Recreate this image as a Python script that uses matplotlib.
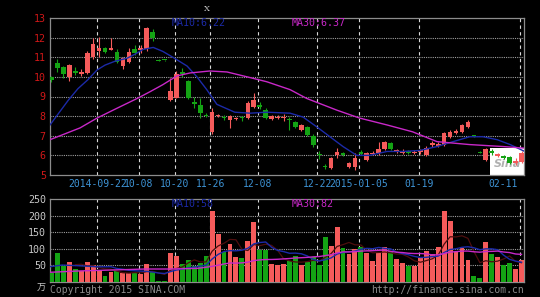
import matplotlib
matplotlib.use("Agg")
import matplotlib.pyplot as plt
import matplotlib.transforms as mtransforms
import numpy as np
import pandas as pd

# ---------------- data ----------------
opens = [10.0, 10.7, 10.5, 10.0, 10.3, 10.15, 10.2, 11.0, 11.3, 11.45,
         11.38, 11.25, 10.55, 10.75, 11.4, 11.35, 11.4, 12.3, 10.88, 10.86,
         8.8, 8.9, 10.25, 9.8, 8.7, 8.55, 8.08, 7.2, 8.0, 7.95,
         7.78, 7.83, 7.92, 7.9, 8.45, 8.55, 8.3, 7.85, 7.9, 7.92,
         7.85, 7.7, 7.3, 7.45, 7.0, 6.05, 5.45, 5.35, 6.0, 6.1,
         5.4, 5.4, 6.15, 5.75, 6.05, 6.1, 6.3, 6.65, 6.15, 6.1,
         6.2, 6.1, 6.15, 6.0, 6.55, 6.5, 6.55, 6.95, 7.15, 7.2,
         7.45, 7.0, 6.18, 5.75, 6.2, 5.95, 5.95, 5.9, 5.6, 5.65]
highs = [10.05, 10.9, 10.55, 10.65, 10.5, 10.4, 11.3, 12.0, 12.05, 11.5,
         12.0, 11.4, 11.0, 11.45, 11.6, 11.6, 12.55, 12.45, 10.9, 10.88,
         9.95, 10.3, 10.45, 9.85, 9.0, 8.9, 8.15, 8.4, 8.1, 8.05,
         8.05, 7.95, 8.0, 8.75, 9.2, 8.7, 8.4, 8.05, 8.05, 8.1,
         7.95, 7.75, 7.6, 7.5, 7.1, 6.2, 5.55, 5.9, 6.4, 6.15,
         5.65, 6.1, 6.25, 6.15, 6.2, 6.7, 6.75, 6.7, 6.3, 6.3,
         6.25, 6.25, 6.3, 6.5, 6.75, 6.7, 7.2, 7.3, 7.35, 7.6,
         7.8, 7.02, 6.2, 6.4, 6.3, 6.1, 6.0, 5.95, 5.85, 6.2]
lows = [9.75, 10.25, 9.95, 9.8, 10.1, 10.05, 10.15, 10.9, 11.0, 11.2,
        11.35, 10.7, 10.4, 10.7, 11.1, 11.2, 11.3, 11.85, 10.8, 10.82,
        8.77, 8.9, 10.0, 8.85, 8.4, 7.9, 7.95, 7.1, 7.95, 7.8,
        7.4, 7.8, 7.75, 7.85, 8.4, 8.35, 7.85, 7.8, 7.85, 7.75,
        7.3, 7.4, 7.25, 7.0, 6.45, 5.8, 5.3, 5.3, 5.85, 5.95,
        5.35, 5.25, 6.0, 5.7, 6.0, 6.0, 6.25, 6.25, 6.1, 6.05,
        6.05, 6.05, 6.05, 5.95, 6.45, 6.45, 6.5, 6.9, 7.1, 7.15,
        7.4, 6.95, 6.1, 5.7, 6.0, 5.9, 5.8, 5.55, 5.5, 5.6]
closes = [9.85, 10.45, 10.15, 10.6, 10.2, 10.27, 11.2, 11.7, 11.45, 11.25,
          11.47, 10.75, 10.95, 11.25, 11.2, 11.45, 12.5, 12.0, 10.82, 10.84,
          9.28, 10.15, 10.15, 8.9, 8.62, 8.15, 8.02, 8.2, 8.06, 7.88,
          8.0, 7.88, 7.88, 8.65, 8.8, 8.45, 7.9, 8.0, 7.97, 7.98,
          7.8, 7.45, 7.55, 7.05, 6.55, 6.0, 5.4, 5.85, 6.15, 6.02,
          5.6, 5.85, 6.08, 6.1, 6.12, 6.35, 6.7, 6.3, 6.25, 6.22,
          6.12, 6.18, 6.25, 6.4, 6.65, 6.58, 7.15, 7.2, 7.25, 7.55,
          7.7, 6.97, 6.13, 6.35, 6.1, 6.05, 5.85, 5.6, 5.7, 6.1]
volumes = [25, 86, 47, 60, 38, 32, 60, 50, 32, 17,
           28, 31, 25, 27, 25, 22, 52, 28, 3, 2,
           86, 79, 52, 65, 47, 55, 79, 215, 144, 89,
           113, 74, 71, 124, 180, 96, 96, 53, 50, 53,
           62, 79, 50, 58, 73, 50, 135, 108, 167, 101,
           83, 99, 106, 86, 62, 89, 106, 93, 68, 57,
           48, 48, 72, 93, 84, 104, 215, 184, 91, 101,
           65, 17, 12, 121, 84, 76, 50, 57, 38, 65]

# Moving-average lines of the price panel (index, value)
ma10_x = [-0.25, 2.8, 4.45, 6.1, 7.65, 9.0, 10.7, 12.7, 14.0, 15.4, 17.1, 18.7,
          20.4, 22.8, 24.45, 26.1, 27.8, 30.8, 33.4, 36.2, 40.1, 42.3, 44.6,
          46.8, 49.0, 51.3, 53.5, 56.4, 59.1, 61.9, 64.8, 67.5, 70.3, 72.5,
          74.9, 77.1, 79.4]
ma10_y = [7.55, 8.8, 9.4, 9.85, 10.35, 10.6, 10.8, 10.95, 11.15, 11.4, 11.5, 11.3,
          11.0, 10.55, 10.0, 9.35, 8.6, 8.2, 8.15, 8.2, 8.15, 7.95, 7.45,
          6.95, 6.45, 6.0, 6.0, 6.2, 6.2, 6.25, 6.45, 6.7, 6.95, 6.95,
          6.8, 6.55, 6.22]
ma30_x = [-0.25, 4.8, 7.65, 11.0, 14.4, 16.6, 18.7, 21.1, 23.3, 26.6, 29.5, 32.9,
          36.2, 40.1, 42.9, 48.0, 51.8, 56.4, 60.7, 64.8, 70.3, 75.9, 79.4]
ma30_y = [6.8, 7.4, 7.9, 8.4, 8.9, 9.25, 9.6, 10.05, 10.2, 10.3, 10.25, 10.0,
          9.75, 9.35, 8.9, 8.3, 7.9, 7.55, 7.2, 6.7, 6.55, 6.45, 6.37]

# start of the volume MA lines (before enough bars are in view)
vma10_head_x = [-0.25, 1.8, 4.5, 7.3]
vma10_head_y = [45, 50, 48, 45]
vma30_head_x = [-0.25, 4.5, 10.2, 15.7, 19.9, 24.6, 27.0]
vma30_head_y = [28, 32, 35, 38, 38, 40, 46]

date_idx = [8, 15, 21, 27, 35, 45, 52, 62, 79]
date_labels = ["2014-09-22", "10-08", "10-20", "11-26", "12-08",
               "12-22", "2015-01-05", "01-19", "02-11"]
price_ticks = [5, 6, 7, 8, 9, 10, 11, 12, 13]
vol_ticks = [50, 100, 150, 200, 250]

# ---------------- style ----------------
RED = "#F55B5B"
GREEN = "#14A314"
BLUE = "#1C2AA8"
MAG = "#C828C8"
GRID = "#A0A0A0"
MONO = "DejaVu Sans Mono"
plt.rcParams["font.family"] = [MONO, "Noto Sans CJK SC"]

W, H = 540, 297
fig = plt.figure(figsize=(W / 100, H / 100), dpi=100, facecolor="black")
ax1 = fig.add_axes([50 / W, (H - 175) / H, 474 / W, 157 / H], facecolor="black")
ax2 = fig.add_axes([50 / W, (H - 281.5) / H, 474 / W, (281.5 - 199.3) / H], facecolor="black")

n = len(closes)
x = np.arange(n)
XL = (-0.25, 79.42)
bw = 0.78

for ax in (ax1, ax2):
    ax.set_xlim(*XL)
    for s in ax.spines.values():
        s.set_color("#8C8C8C")
        s.set_linewidth(0.9)
    ax.tick_params(axis="both", length=0, pad=3)
    ax.set_xticks([])
    for d in date_idx:
        ax.axvline(d - 0.3, color="#D8D8D8", lw=0.8, ls=(0, (3, 3)), zorder=1)

# ---- price panel ----
ax1.set_ylim(5, 13)
ax1.set_yticks(price_ticks)
ax1.set_yticklabels([str(t) for t in price_ticks], color="#D01818", fontsize=7.2, family=MONO)
for t in price_ticks[1:-1]:
    ax1.axhline(t, color=GRID, lw=0.8, ls=(0, (1, 1)), zorder=1)

# sina logo box
ax1.add_patch(plt.Rectangle((73.7, 5.0), 79.42 - 73.7, 1.37, facecolor="white",
                            edgecolor="none", zorder=2))
ax1.text(76.6, 5.55, "Sina", color="#B0B0B0", fontsize=8, fontstyle="italic",
         fontweight="bold", family="DejaVu Sans", ha="center", va="center", zorder=2)

for i in range(n):
    o, h, l, c = opens[i], highs[i], lows[i], closes[i]
    col = RED if c >= o else GREEN
    ax1.vlines(i, l, h, color=col, lw=0.8, zorder=4)
    bh = max(abs(c - o), 0.05)
    ax1.bar(i, bh, bottom=min(o, c), width=bw, color=col, zorder=5, linewidth=0)

ax1.plot(ma10_x, ma10_y, color=BLUE, lw=1.0, zorder=6)
ax1.plot(ma30_x, ma30_y, color=MAG, lw=1.0, zorder=6)

ax1.text(172 / W, (H - 23) / H, "MA10:%.2f" % ma10_y[-1], transform=fig.transFigure,
         color=BLUE, fontsize=7.2, va="center", ha="left")
ax1.text(292 / W, (H - 23) / H, "MA30:%.2f" % ma30_y[-1], transform=fig.transFigure,
         color=MAG, fontsize=7.2, va="center", ha="left")

trans = mtransforms.blended_transform_factory(ax1.transData, fig.transFigure)
for d, lab in zip(date_idx, date_labels):
    if d == date_idx[-1]:
        ax1.text(78.4, (H - 184) / H, lab, transform=trans, color="#3E94D6",
                 fontsize=7.0, ha="right", va="center")
    else:
        ax1.text(d - 0.3, (H - 184) / H, lab, transform=trans, color="#3E94D6",
                 fontsize=7.0, ha="center", va="center")

# ---- volume panel ----
ax2.set_ylim(0, 250)
ax2.set_yticks(vol_ticks)
ax2.set_yticklabels([str(t) for t in vol_ticks], color="#C8C8C8", fontsize=7.2, family=MONO)
for t in vol_ticks[:-1]:
    ax2.axhline(t, color=GRID, lw=0.8, ls=(0, (1, 1)), zorder=1)

vcols = [RED if closes[i] >= opens[i] else GREEN for i in range(n)]
ax2.bar(x, volumes, width=0.82, color=vcols, zorder=3, linewidth=0)

vs = pd.Series(volumes, dtype=float)
vma5 = vs.rolling(5).mean()
vma10 = vs.rolling(10).mean()
vma30 = vs.rolling(30).mean()
ax2.plot(x[4:], vma5[4:], color="#4E0E0E", lw=0.9, zorder=4)
ax2.plot(list(vma10_head_x) + list(x[9:]), list(vma10_head_y) + list(vma10[9:]),
         color=BLUE, lw=1.0, zorder=5)
ax2.plot(list(vma30_head_x) + list(x[29:]), list(vma30_head_y) + list(vma30[29:]),
         color=MAG, lw=1.0, zorder=5)

fig.text(172 / W, (H - 204) / H, "MA10:%d" % int(vma10.iloc[-1]), color=BLUE,
         fontsize=7.2, va="center", ha="left")
fig.text(292 / W, (H - 204) / H, "MA30:%d" % int(vma30.iloc[-1]), color=MAG,
         fontsize=7.2, va="center", ha="left")

# ---- misc text ----
fig.text(46 / W, (H - 288) / H, "万", color="#C8C8C8", fontsize=6.5, ha="right",
         va="center", family=["Noto Sans CJK SC", MONO])
fig.text(50 / W, (H - 290) / H, "Copyright 2015 SINA.COM", color="#8C8C8C",
         fontsize=7.0, ha="left", va="center")
fig.text(524 / W, (H - 290) / H, "http://finance.sina.com.cn", color="#8C8C8C",
         fontsize=7.0, ha="right", va="center")
fig.text(207 / W, (H - 9) / H, "X", color="#D0D0D0", fontsize=6, ha="center",
         va="center", family="DejaVu Serif")

fig.savefig("out.png", dpi=100, facecolor="black")
